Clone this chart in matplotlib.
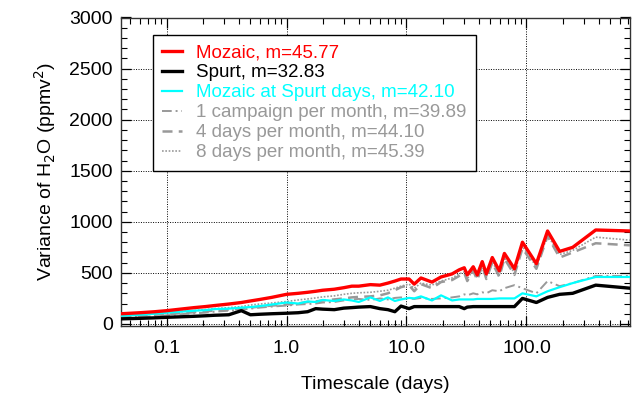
import matplotlib
matplotlib.use("Agg")
import matplotlib.pyplot as plt
from matplotlib.ticker import FixedLocator, MultipleLocator, LogLocator, NullFormatter

plt.rcParams['font.family'] = ['Liberation Sans', 'DejaVu Sans']

timescale = [0.042, 0.06, 0.08, 0.1, 0.13, 0.17, 0.21, 0.25, 0.33, 0.42, 0.5, 0.6, 0.75,
             1.0, 1.25, 1.5, 1.75, 2.0, 2.5, 3.0, 3.5, 4.0, 5.0, 6.0, 7.0, 8.0, 9.0,
             10.5, 11.6, 13.2, 16.3, 19.4, 24, 27.5, 30.3, 32.1, 36, 38.9, 42.8, 46.3,
             51.9, 59.4, 65.5, 79.4, 92.6, 121, 150, 189, 243, 378, 730]

mozaic = [100, 110, 120, 130, 145, 160, 170, 180, 195, 210, 225, 240, 260,
          290, 300, 310, 320, 330, 340, 355, 370, 370, 385, 380, 400, 420, 440,
          440, 390, 450, 410, 460, 490, 530, 550, 480, 560, 480, 610, 490,
          650, 520, 690, 540, 800, 590, 910, 710, 750, 920, 910]

spurt = [50, 55, 60, 65, 70, 75, 80, 85, 90, 130, 90, 95, 100,
         105, 110, 120, 150, 145, 140, 155, 160, 165, 170, 150, 140, 120, 175,
         150, 170, 170, 170, 170, 170, 170, 150, 165, 170, 170, 170, 170,
         170, 170, 170, 170, 250, 210, 260, 290, 300, 380, 350]

mozaic_spurt_days = [80, 90, 100, 110, 120, 130, 135, 145, 150, 160, 165, 175, 190,
                     210, 200, 220, 215, 235, 225, 240, 230, 215, 260, 225, 260, 225, 240,
                     255, 250, 270, 230, 280, 230, 240, 240, 240, 240, 245, 245, 245,
                     245, 250, 250, 250, 300, 270, 320, 360, 400, 460, 460]

one_campaign = [60, 70, 75, 85, 95, 105, 110, 120, 130, 140, 150, 160, 170,
                180, 190, 195, 200, 210, 215, 230, 240, 245, 235, 250, 240, 255, 260,
                250, 245, 255, 245, 250, 260, 270, 290, 280, 300, 290, 310, 300,
                330, 320, 350, 380, 350, 300, 420, 370, 400, 470, 470]

four_days = [70, 80, 90, 95, 105, 115, 125, 130, 140, 150, 160, 170, 180,
             190, 200, 215, 220, 230, 240, 250, 260, 265, 270, 280, 300, 330, 360,
             380, 320, 390, 350, 410, 430, 470, 500, 420, 520, 430, 570, 440,
             600, 460, 640, 480, 740, 540, 860, 650, 700, 790, 770]

eight_days = [80, 90, 100, 110, 120, 130, 140, 150, 160, 170, 185, 195, 205,
              220, 235, 245, 255, 265, 275, 290, 300, 305, 310, 320, 330, 350, 370,
              390, 350, 400, 380, 420, 450, 490, 510, 440, 530, 450, 580, 460,
              610, 480, 650, 500, 760, 560, 870, 680, 720, 850, 820]

labels = ["Mozaic, m=45.77", "Spurt, m=32.83", "Mozaic at Spurt days, m=42.10",
          "1 campaign per month, m=39.89", "4 days per month, m=44.10",
          "8 days per month, m=45.39"]
xtick_vals = [0.1, 1.0, 10.0, 100.0]
xtick_labels = ["0.1", "1.0", "10.0", "100.0"]
ytick_vals = [0, 500, 1000, 1500, 2000, 2500, 3000]

W, H = 633, 397
fig = plt.figure(figsize=(W / 100, H / 100), dpi=100)
ax = fig.add_axes([121 / W, 1 - 326 / H, (630 - 121) / W, (326 - 17.5) / H])

gray = '#999999'
ax.plot(timescale, mozaic, color='red', lw=2.4, label=labels[0], zorder=5)
ax.plot(timescale, spurt, color='black', lw=2.4, label=labels[1], zorder=5)
ax.plot(timescale, mozaic_spurt_days, color='cyan', lw=1.6, label=labels[2], zorder=4)
ax.plot(timescale, one_campaign, color=gray, lw=1.4, ls=(0, (5, 2, 1, 2)), label=labels[3], zorder=3)
ax.plot(timescale, four_days, color=gray, lw=1.8, ls=(0, (4, 2.5)), label=labels[4], zorder=3)
ax.plot(timescale, eight_days, color=gray, lw=1.2, ls=(0, (1, 1)), label=labels[5], zorder=3)

ax.set_xscale('log')
ax.set_xlim(1 / 24, 730)
ax.set_ylim(-20, 3000)
ax.xaxis.set_major_locator(FixedLocator(xtick_vals))
ax.set_xticklabels(xtick_labels)
ax.xaxis.set_minor_locator(LogLocator(base=10, subs=range(2, 10), numticks=20))
ax.xaxis.set_minor_formatter(NullFormatter())
ax.yaxis.set_major_locator(FixedLocator(ytick_vals))
ax.yaxis.set_minor_locator(MultipleLocator(100))
ax.tick_params(which='both', direction='in', top=True, right=True, labelsize=14, colors='black')
ax.tick_params(which='major', length=7, width=0.9)
ax.tick_params(which='minor', length=4, width=0.8)
ax.tick_params(axis='x', pad=10)
ax.tick_params(axis='y', pad=6)
ax.grid(True, which='major', color='black', ls=(0, (1, 1.5)), lw=0.7)
for s in ax.spines.values():
    s.set_color('#333333')
    s.set_linewidth(1.0)

ax.set_xlabel("Timescale (days)", fontsize=14, labelpad=14)
ax.set_ylabel("Variance of H$_2$O (ppmv$^2$)", fontsize=14, labelpad=8)

leg = ax.legend(loc='upper left', bbox_to_anchor=(153 / W, 1 - 35 / H),
                bbox_transform=fig.transFigure, borderaxespad=0, fontsize=13.5,
                frameon=True, fancybox=False, edgecolor='black', framealpha=1,
                handlelength=1.05, handletextpad=0.75, labelspacing=0.15,
                borderpad=0.5)
leg.get_frame().set_linewidth(1.0)
text_colors = ['red', 'black', 'cyan', gray, gray, gray]
for t, c in zip(leg.get_texts(), text_colors):
    t.set_color(c)
leg.set_zorder(10)

fig.savefig("out.png", dpi=100)
